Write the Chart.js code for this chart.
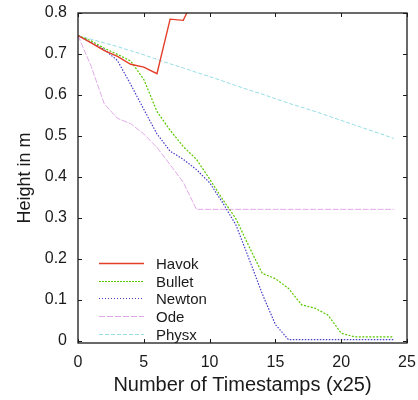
<!DOCTYPE html>
<html>
<head>
    <title>Height vs Timestamps</title>
    <script src="https://cdn.jsdelivr.net/npm/chart.js"></script>
    <style>
        body { margin: 0; background: #fff; }
        #wrap { width: 418px; height: 400px; }
    </style>
</head>
<body>
    <div id="wrap"><canvas id="heightChart" width="418" height="400"></canvas></div>

    <script>
        // values
        const steps = [0, 1, 2, 3, 4, 5, 6, 7, 8, 9, 10, 11, 12, 13, 14, 15, 16, 17, 18, 19, 20, 21, 22, 23, 24];
        const havok = [0.745, 0.727, 0.708, 0.694, 0.675, 0.668, 0.652, 0.785, 0.782, 0.85];
        const bullet = [0.745, 0.732, 0.714, 0.699, 0.683, 0.638, 0.56, 0.514, 0.474, 0.443, 0.395, 0.345, 0.298, 0.23, 0.165,
                        0.152, 0.128, 0.088, 0.08, 0.063, 0.019, 0.01, 0.01, 0.01, 0.01];
        const newton = [0.745, 0.728, 0.711, 0.684, 0.626, 0.565, 0.505, 0.463, 0.443, 0.418, 0.386, 0.337, 0.283, 0.2, 0.115,
                        0.04, 0.003, 0.003, 0.003, 0.003, 0.003, 0.003, 0.003, 0.003, 0.003];
        const ode = [0.745, 0.67, 0.578, 0.543, 0.53, 0.505, 0.472, 0.43, 0.387, 0.321, 0.321, 0.321, 0.321, 0.321, 0.321,
                     0.321, 0.321, 0.321, 0.321, 0.321, 0.321, 0.321, 0.321, 0.321, 0.321];
        const physx = [0.745, 0.736, 0.727, 0.718, 0.708, 0.698, 0.687, 0.676, 0.666, 0.655, 0.645, 0.634, 0.623, 0.612, 0.602,
                       0.591, 0.58, 0.57, 0.56, 0.549, 0.538, 0.527, 0.516, 0.505, 0.494];
        const xTicks = [0, 5, 10, 15, 20, 25];
        const yTicks = [0, 0.1, 0.2, 0.3, 0.4, 0.5, 0.6, 0.7, 0.8];

        const FONT = 'Liberation Sans, Arial, sans-serif';

        function points(vals) {
            return vals.map((v, i) => ({ x: steps[i], y: v }));
        }

        function series(label, vals, color, dash, width) {
            return {
                label: label,
                data: points(vals),
                borderColor: color,
                borderDash: dash,
                borderWidth: width,
                pointRadius: 0,
                tension: 0,
                fill: false
            };
        }

        // gnuplot style frame, inward ticks and legend inside the plot
        const framePlugin = {
            id: 'frame',
            afterDraw(chart) {
                const ctx = chart.ctx;
                const a = chart.chartArea;
                const xs = chart.scales.x, ys = chart.scales.y;
                ctx.save();
                ctx.strokeStyle = '#1a1a1a';
                ctx.lineWidth = 1.3;
                ctx.strokeRect(a.left, a.top, a.right - a.left, a.bottom - a.top);
                ctx.lineWidth = 1;
                ctx.beginPath();
                xTicks.forEach(t => {
                    const px = Math.round(xs.getPixelForValue(t)) + 0.5;
                    ctx.moveTo(px, a.bottom); ctx.lineTo(px, a.bottom - 4);
                    ctx.moveTo(px, a.top); ctx.lineTo(px, a.top + 4);
                });
                yTicks.forEach(t => {
                    const py = Math.round(ys.getPixelForValue(t)) + 0.5;
                    ctx.moveTo(a.left, py); ctx.lineTo(a.left + 4, py);
                    ctx.moveTo(a.right, py); ctx.lineTo(a.right - 4, py);
                });
                ctx.stroke();

                // legend
                const sampleDash = [[], [2, 1], [1, 2], [6, 2], [4, 2]];
                ctx.font = '15px ' + FONT;
                ctx.textBaseline = 'middle';
                ctx.textAlign = 'left';
                chart.data.datasets.forEach((ds, i) => {
                    const y = Math.round(a.top + 250 + i * 17.65) + 0.5;
                    ctx.strokeStyle = ds.borderColor;
                    ctx.lineWidth = i === 0 ? 1.6 : 1;
                    ctx.setLineDash(sampleDash[i]);
                    ctx.beginPath();
                    ctx.moveTo(Math.round(a.left) + 21, y);
                    ctx.lineTo(Math.round(a.left) + 66, y);
                    ctx.stroke();
                    ctx.setLineDash([]);
                    ctx.fillStyle = '#1a1a1a';
                    ctx.fillText(ds.label, a.left + 78, y + 1);
                });
                ctx.restore();
            }
        };

        const ctx = document.getElementById('heightChart').getContext('2d');
        new Chart(ctx, {
            type: 'line',
            data: {
                datasets: [
                    series('Havok', havok, 'rgb(228, 62, 40)', [], 1.4),
                    series('Bullet', bullet, 'rgb(90, 200, 0)', [2, 1.5], 1.2),
                    series('Newton', newton, 'rgb(70, 60, 200)', [1.5, 1.5], 1.2),
                    series('Ode', ode, 'rgb(225, 170, 232)', [6, 1.5], 1),
                    series('Physx', physx, 'rgb(150, 222, 228)', [4, 2], 1)
                ]
            },
            options: {
                responsive: false,
                animation: false,
                layout: { padding: { top: 13, right: 11, left: 0, bottom: 0 } },
                plugins: { legend: { display: false }, tooltip: { enabled: false } },
                scales: {
                    x: {
                        type: 'linear',
                        min: 0,
                        max: 25,
                        afterBuildTicks: s => { s.ticks = xTicks.map(v => ({ value: v })); },
                        afterFit: s => { s.height = 57; s.paddingLeft = 0; s.paddingRight = 0; },
                        grid: { display: false, drawTicks: false },
                        border: { display: false },
                        ticks: { padding: 10, color: '#1a1a1a', font: { family: FONT, size: 16 } },
                        title: {
                            display: true,
                            text: 'Number of Timestamps (x25)',
                            color: '#1a1a1a',
                            font: { family: FONT, size: 20 },
                            padding: { top: 0, bottom: 3 }
                        }
                    },
                    y: {
                        min: -0.005,
                        max: 0.8,
                        afterBuildTicks: s => { s.ticks = yTicks.map(v => ({ value: v })); },
                        afterFit: s => { s.width = 78; s.paddingTop = 0; s.paddingBottom = 0; },
                        grid: { display: false, drawTicks: false },
                        border: { display: false },
                        ticks: {
                            padding: 11,
                            color: '#1a1a1a',
                            font: { family: FONT, size: 16 },
                            callback: v => (v === 0 ? '0' : v.toFixed(1))
                        },
                        title: {
                            display: true,
                            text: 'Height in m',
                            color: '#1a1a1a',
                            font: { family: FONT, size: 18 },
                            padding: { top: 14, bottom: 0 }
                        }
                    }
                }
            },
            plugins: [framePlugin]
        });
    </script>
</body>
</html>
